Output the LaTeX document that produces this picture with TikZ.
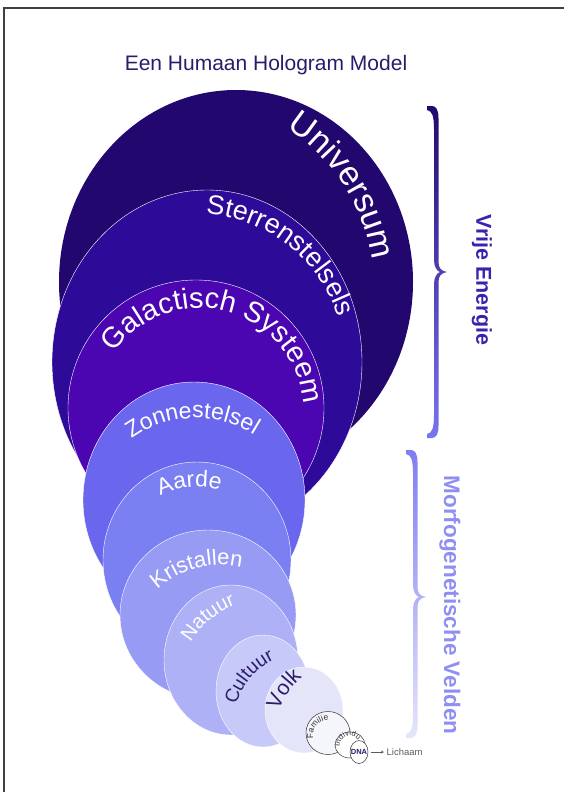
\documentclass[tikz,border=0pt]{standalone}
\usepackage{fontspec}
\setmainfont{Liberation Sans}
\usetikzlibrary{arrows.meta, calc, decorations.text}

\definecolor{universum}{HTML}{22086E}
\definecolor{sterren}{HTML}{2D0A98}
\definecolor{galactisch}{HTML}{4B06B2}
\definecolor{zonne}{HTML}{6A66EE}
\definecolor{aarde}{HTML}{7A7FF2}
\definecolor{kristal}{HTML}{979BF4}
\definecolor{natuur}{HTML}{AEB1F6}
\definecolor{cultuur}{HTML}{C7C9F8}
\definecolor{volk}{HTML}{E5E5FA}
\definecolor{familie}{HTML}{F5F5FC}
\definecolor{titleink}{HTML}{2B1B6B}
\definecolor{darkink}{HTML}{2A1D6E}
\definecolor{smallink}{HTML}{333333}

\tikzset{
  layer/.style={draw=white, line width=0.4pt},
  smallring/.style={draw=smallink, line width=0.5pt},
}

% text on an arc: centre, radius, middle angle, size, colour, text
\newcommand{\bowtext}[6]{%
  \path[decorate, decoration={text along path, text align=center, text color=#5,
      text={|\fontsize{#4}{#4}\selectfont|#6}}]
    ($(#1)+({#3+80}:#2)$) arc[start angle={#3+80}, end angle={#3-80}, radius=#2];
}

% filled curly bracket: x of bar, top y, middle y, bottom y, shading
\newcommand{\curlybar}[5]{%
  \shade[#5]
    ({#1-9},{-#2}) -- ({#1-4},{-#2})
      .. controls ({#1},{-#2}) and ({#1+2.5},{-(#2+4)}) .. ({#1+2.5},{-(#2+12)})
      -- ({#1+2.5},{-(#3-10)})
      .. controls ({#1+2.5},{-(#3-4)}) and ({#1+5},{-(#3-1)}) .. ({#1+11},{-#3})
      .. controls ({#1+5},{-(#3+1)}) and ({#1+2.5},{-(#3+4)}) .. ({#1+2.5},{-(#3+10)})
      -- ({#1+2.5},{-(#4-12)})
      .. controls ({#1+2.5},{-(#4-4)}) and ({#1},{-#4}) .. ({#1-4},{-#4})
      -- ({#1-9},{-#4}) -- ({#1-9},{-(#4-4)})
      .. controls ({#1-4},{-(#4-5)}) and ({#1-2},{-(#4-9)}) .. ({#1-2},{-(#4-24)})
      -- ({#1-2},{-(#3+12)})
      .. controls ({#1-2},{-(#3+5)}) and ({#1+1},{-(#3+1)}) .. ({#1+4},{-#3})
      .. controls ({#1+1},{-(#3-1)}) and ({#1-2},{-(#3-5)}) .. ({#1-2},{-(#3-12)})
      -- ({#1-2},{-(#2+24)})
      .. controls ({#1-2},{-(#2+9)}) and ({#1-4},{-(#2+5)}) .. ({#1-9},{-(#2+4)})
      -- cycle;
}

\begin{document}
\begin{tikzpicture}[x=1pt, y=1pt]
  \useasboundingbox (0,0) rectangle (564,-792);

  % page frame (only top and left edge show)
  \draw[black!75, line width=1.2pt] (4,-792) -- (4,-8) -- (564,-8);

  % Title
  \node[font=\fontsize{21}{25}\selectfont, text=titleink] (title) at (266,-65) {Een Humaan Hologram Model};

  % Nested spheres, biggest first
  \fill[universum] (236,-282) ellipse[x radius=177, y radius=192];
  \draw[layer, fill=sterren] (207,-362) ellipse[x radius=155, y radius=172];
  \draw[layer, fill=galactisch] (196,-408) ellipse[x radius=128, y radius=128];
  \draw[layer, fill=zonne] (194,-500) ellipse[x radius=111, y radius=118];
  \draw[layer, fill=aarde] (197,-560) ellipse[x radius=94, y radius=98];
  \draw[layer, fill=kristal] (208,-615) ellipse[x radius=88, y radius=85];
  \draw[layer, fill=natuur] (231,-660) ellipse[x radius=67, y radius=75];
  \draw[layer, fill=cultuur] (263,-691) ellipse[x radius=47, y radius=56];
  \draw[layer, fill=volk] (304,-710) ellipse[x radius=39, y radius=43];
  \draw[smallring, fill=familie] (328,-733) ellipse[x radius=22, y radius=21.5];
  \draw[smallring, fill=white] (350,-745) ellipse[x radius=15, y radius=13];
  \draw[smallring, fill=white] (359,-752) ellipse[x radius=9, y radius=11.5];

  % Curved labels
  \bowtext{184,-288}{190}{33}{34}{white}{Universum}
  \bowtext{197,-362}{148}{52}{27}{white}{Sterrenstelsels}
  \bowtext{200,-412}{104}{75}{29}{white}{Galactisch Systeem}
  \bowtext{196,-528}{110}{92}{23}{white}{Zonnestelsel}
  \bowtext{197,-571}{84}{95}{23}{white}{Aarde}
  \bowtext{221,-659}{94}{105}{22}{white}{Kristallen}
  \bowtext{268,-689}{90}{130}{20}{white}{Natuur}
  \bowtext{304,-723}{70}{140}{19}{darkink}{Cultuur}
  \bowtext{354,-738}{80}{145}{21}{darkink}{Volk}
  \bowtext{328,-735}{15}{140}{8.5}{smallink}{Familie}
  \bowtext{350,-746}{10}{110}{7.5}{smallink}{Individu}

  % DNA to body
  \node[font=\bfseries\fontsize{7.5}{9}\selectfont, text=darkink, inner sep=0.5pt] (dna) at (359,-752) {DNA};
  \node[font=\fontsize{9.5}{11}\selectfont, text=smallink!80, anchor=west, inner sep=0.5pt] (lichaam) at (386,-752) {Lichaam};
  \draw[-{Stealth[length=3pt, width=3pt]}, line width=0.6pt, smallink!80, shorten <=3pt, shorten >=2pt] (dna) -- (lichaam);

  % Brackets on the right
  \curlybar{436}{106}{272}{438}{top color=universum, bottom color=zonne!90!white}
  \curlybar{415}{450}{597}{738}{top color=zonne!85!white, bottom color=volk}

  \node[rotate=-90, font=\bfseries\fontsize{21.5}{25}\selectfont, text=sterren!75!zonne] (vrije) at (482,-280) {Vrije Energie};
  \node[rotate=-90, font=\bfseries\fontsize{22.5}{26}\selectfont, text=zonne!60!cultuur] (morfo) at (450,-605) {Morfogenetische Velden};
\end{tikzpicture}
\end{document}
